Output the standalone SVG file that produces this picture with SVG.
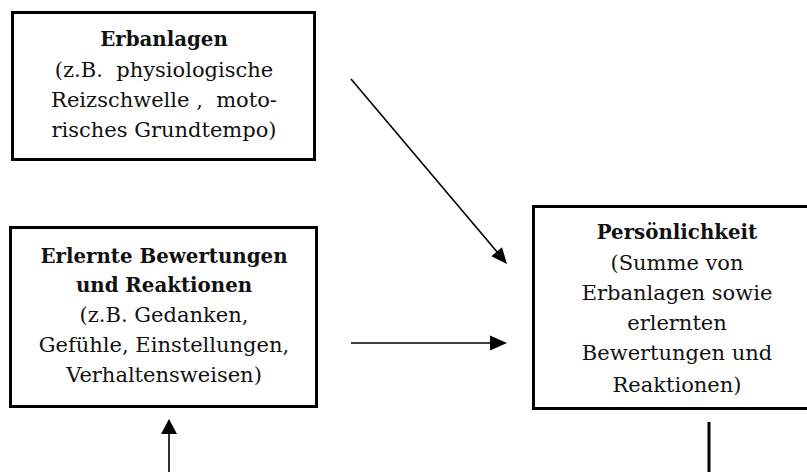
<svg xmlns="http://www.w3.org/2000/svg" width="807" height="472" viewBox="0 0 807 472">
<style>
.box{fill:#fff;stroke:#000;stroke-width:3}
text{font-family:"DejaVu Serif","Liberation Serif",serif;font-size:21px;fill:#111;text-anchor:middle;white-space:pre}
.b{font-weight:bold;font-size:19.8px}
.ln{stroke:#000;stroke-width:1.6;fill:none}
</style>
<rect width="807" height="472" fill="#fff"/>
<g id="erbanlagen">
<rect class="box" x="12.5" y="12.5" width="302" height="147"/>
<text class="b" x="164" y="46">Erbanlagen</text>
<text x="164" y="77">(z.B.  physiologische</text>
<text x="164" y="107">Reizschwelle ,  moto-</text>
<text x="164" y="137">risches Grundtempo)</text>
</g>
<g id="erlernte">
<rect class="box" x="10.5" y="227.5" width="306" height="179"/>
<text class="b" x="164" y="263">Erlernte Bewertungen</text>
<text class="b" x="164" y="292">und Reaktionen</text>
<text x="164" y="322">(z.B. Gedanken,</text>
<text x="164" y="352">Gefühle, Einstellungen,</text>
<text x="164" y="382">Verhaltensweisen)</text>
</g>
<g id="persoenlichkeit">
<rect class="box" x="533.5" y="206.5" width="290" height="202"/>
<text class="b" x="677" y="239">Persönlichkeit</text>
<text x="677" y="270">(Summe von</text>
<text x="677" y="300">Erbanlagen sowie</text>
<text x="677" y="330">erlernten</text>
<text x="677" y="360">Bewertungen und</text>
<text x="677" y="392">Reaktionen)</text>
</g>
<g id="connectors">
<path d="M351,79 L498,253" class="ln"/>
<path d="M507,264 L491.3,256.3 L502,247.3 Z" fill="#000"/>
<path d="M351,343 L495,343" class="ln"/>
<path d="M490,335.5 L507,343 L490,350.5 Z" fill="#000"/>
<path d="M169,472 L169,432" class="ln"/>
<path d="M161,434 L169,419 L177,434 Z" fill="#000"/>
<path d="M709,422 L709,472" stroke="#000" stroke-width="3"/>
</g>
</svg>
